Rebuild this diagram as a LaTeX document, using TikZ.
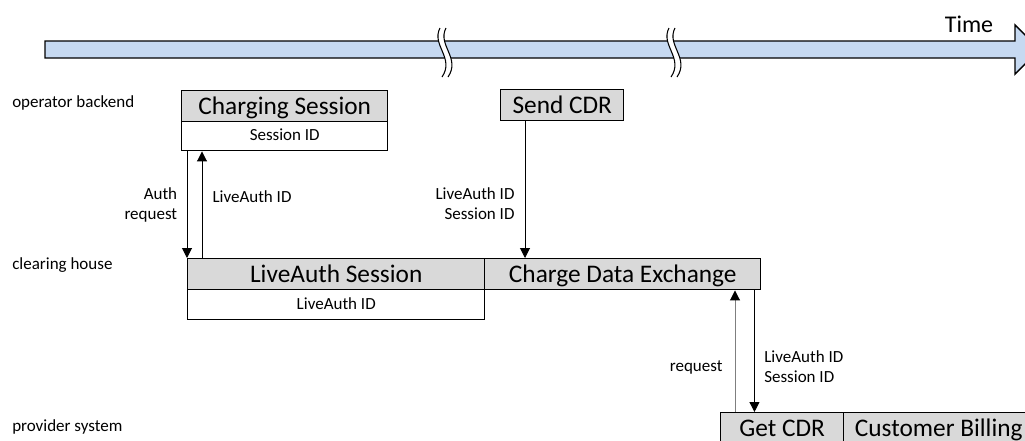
\documentclass[tikz,border=0pt]{standalone}
\usepackage{fontspec}
\setmainfont{Carlito}
\usepackage{tikz}
\usetikzlibrary{arrows.meta}
\definecolor{boxgray}{HTML}{D9D9D9}
\definecolor{barblue}{HTML}{C6D9F1}
\definecolor{reqgray}{HTML}{7F7F7F}
\newcommand{\pxu}{0.75pt}
\tikzset{
  bigtext/.style   = {font=\fontsize{19}{22}\selectfont},
  smalltext/.style = {font=\fontsize{12.75}{15}\selectfont},
  headbox/.style   = {draw, line width=1.1pt, fill=boxgray, anchor=north west, inner sep=0pt,
                      bigtext, text height=12.6pt, text depth=0pt, minimum height=31*\pxu},
  subbox/.style    = {draw, line width=1.1pt, fill=white, anchor=north west, inner sep=0pt,
                      smalltext, text height=6.8pt, text depth=0pt},
  msg/.style       = {line width=0.75pt, -{Triangle[width=7.5pt,length=7.5pt]}},
  lbl/.style       = {smalltext, inner sep=0pt},
}

\begin{document}
\begin{tikzpicture}[x=\pxu, y=-\pxu]
\useasboundingbox (0,0) rectangle (1025,440);

% time line
\draw[line width=1.1pt, fill=barblue] (45,41) -- (1015,41) -- (1015,25) -- (1040,49.5)
  -- (1015,74) -- (1015,58) -- (45,58) -- cycle;
\node[font=\fontsize{18}{20}\selectfont] (time) at (969,24) {Time};
\foreach \x in {440,669} {
 \fill[white] (\x,28) .. controls (\x-9,45) and (\x+15,58) .. (\x+2,77)
   -- (\x+8,77) .. controls (\x+21,58) and (\x-3,45) .. (\x+6,28) -- cycle;
 \draw[line width=0.8pt] (\x,28) .. controls (\x-9,45) and (\x+15,58) .. (\x+2,77);
 \draw[line width=0.8pt] (\x+6,28) .. controls (\x-3,45) and (\x+21,58) .. (\x+8,77);
}

% lanes
\node[lbl, anchor=west] (opb) at (12,103) {operator backend};
\node[lbl, anchor=west] (clh) at (12,265) {clearing house};
\node[lbl, anchor=west] (prv) at (12,427) {provider system};

% boxes
\node[headbox, minimum width=206*\pxu] (cs) at (181,90) {Charging Session};
\node[subbox, minimum width=206*\pxu, minimum height=29*\pxu] (csid) at (181,121) {Session ID};
\node[headbox, minimum width=123*\pxu] (sendcdr) at (500,89) {Send CDR};
\node[headbox, minimum width=297*\pxu] (las) at (187,258) {LiveAuth Session};
\node[subbox, minimum width=297*\pxu, minimum height=30*\pxu] (lasid) at (187,289) {LiveAuth ID};
\node[headbox, minimum width=276*\pxu] (cde) at (484,258) {Charge Data Exchange};
\node[headbox, minimum width=123*\pxu] (getcdr) at (720,412) {Get CDR};
\node[headbox, minimum width=190*\pxu] (billing) at (843,412) {Customer Billing};

% messages
\draw[msg] (las.north west |- csid.south) -- (las.north west)
  node[lbl, pos=0.5, left=7pt, align=right] {Auth\\request};
\draw[msg] ([shift={(15,0)}]las.north west) -- ([shift={(15,0)}]las.north west |- csid.south)
  node[lbl, pos=0.58, right=7.5pt] {LiveAuth ID};
\draw[msg] ([shift={(25,0)}]sendcdr.south west) -- ([shift={(25,0)}]sendcdr.south west |- cde.north)
  node[lbl, pos=0.6, left=7.5pt, align=right] {LiveAuth ID\\Session ID};
\draw[msg, draw=reqgray, -{Triangle[width=7.5pt,length=7.5pt,black]}]
  ([shift={(15,0)}]getcdr.north west) -- ([shift={(15,0)}]getcdr.north west |- cde.south)
  node[lbl, pos=0.37, left=9pt] {request};
\draw[msg] ([shift={(-7,0)}]cde.south east) -- ([shift={(-7,0)}]cde.south east |- getcdr.north)
  node[lbl, pos=0.63, right=7pt, align=left] {LiveAuth ID\\Session ID};
\end{tikzpicture}
\end{document}
